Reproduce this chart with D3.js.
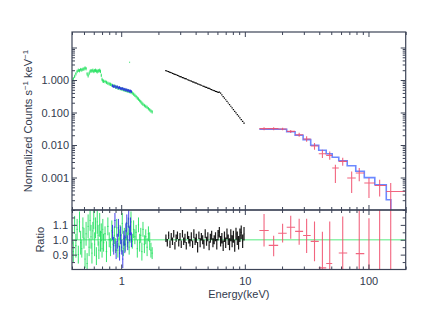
<!DOCTYPE html>
<html lang="en">
<head>
    <meta charset="utf-8">
    <title>Spectrum and ratio</title>
    <style>
        body {
            margin: 0;
            background: #fff;
        }

        svg {
            display: block;
        }

        .frame {
            fill: none;
            stroke: #3d4457;
            stroke-width: 1.2;
        }
    </style>
</head>
<body>
<svg id="chart" width="430" height="332"></svg>
<script src="https://d3js.org/d3.v7.min.js"></script>
<script>
    // ---- tick labels ----
    const xMajor = [1, 10, 100];
    const xLabels = ["1", "10", "100"];
    const yMajor = [0.001, 0.01, 0.1, 1, 10];
    const yLabels = ["0.001", "0.010", "0.100", "1.000", ""];
    const rMajor = [0.9, 1.0, 1.1];
    const rLabels = ["0.9", "1.0", "1.1"];
    const rMinor = [0.85, 0.95, 1.05, 1.15];

    // ---- green (soft) ----
    const greenE = [0.40, 0.41, 0.42, 0.43, 0.44, 0.45, 0.46, 0.47, 0.48, 0.49,
        0.50, 0.51, 0.52, 0.53, 0.54, 0.55, 0.56, 0.57, 0.58, 0.59,
        0.60, 0.61, 0.62, 0.63, 0.64, 0.65, 0.66, 0.67, 0.68, 0.69,
        0.70, 0.71, 0.72, 0.74, 0.76, 0.78, 0.80, 0.82, 0.84, 0.86,
        0.88, 0.90, 0.92, 0.94, 0.96, 0.98, 1.00, 1.02, 1.04, 1.06,
        1.08, 1.10, 1.12, 1.14, 1.16, 1.18, 1.20, 1.23, 1.26, 1.29,
        1.32, 1.35, 1.38, 1.41, 1.44, 1.47, 1.50, 1.54, 1.58, 1.62,
        1.66, 1.70, 1.74, 1.78];
    const greenV = [0.95, 1.10, 1.30, 1.55, 1.85, 2.00, 1.95, 2.10, 2.05, 2.15,
        2.20, 2.35, 2.25, 1.55, 1.35, 1.60, 1.85, 1.95, 1.90, 2.00,
        1.85, 1.95, 2.00, 1.90, 1.80, 1.95, 1.90, 2.00, 1.85, 1.40,
        1.05, 0.95, 0.92, 0.90, 0.85, 0.80, 0.76, 0.74, 0.70, 0.67,
        0.65, 0.61, 0.61, 0.57, 0.57, 0.55, 0.54, 0.53, 0.51, 0.50,
        0.49, 0.48, 0.47, 0.46, 0.45, 0.44, 0.43, 0.40, 0.37, 0.34,
        0.31, 0.28, 0.26, 0.235, 0.215, 0.195, 0.18, 0.165, 0.155, 0.145,
        0.132, 0.122, 0.112, 0.105];
    const greenR = [1.03, 0.92, 1.10, 0.96, 1.07, 0.90, 1.12, 0.98, 0.94, 1.08,
        1.01, 0.87, 1.04, 0.84, 1.09, 0.95, 1.13, 1.02, 0.91, 1.06,
        1.14, 0.97, 1.08, 0.89, 1.12, 1.03, 0.93, 1.10, 0.99, 1.05,
        0.94, 1.07, 0.98, 1.04, 0.92, 1.09, 1.00, 0.95, 1.06, 0.97,
        1.03, 0.96, 1.08, 0.93, 1.01, 1.05, 0.98, 1.11, 0.94, 1.02,
        0.97, 1.06, 1.00, 1.09, 0.95, 1.04, 1.12, 0.99, 1.07, 1.02,
        1.05, 0.94, 1.10, 0.98, 1.03, 0.92, 1.07, 0.97, 1.02, 0.95,
        1.04, 0.99, 0.93, 0.91];
    const greenRErr = [0.06, 0.07, 0.06, 0.08, 0.07, 0.06, 0.07, 0.08, 0.06, 0.07,
        0.07, 0.06, 0.08, 0.07, 0.08, 0.06, 0.07, 0.08, 0.07, 0.06,
        0.07, 0.08, 0.07, 0.06, 0.08, 0.07, 0.06, 0.08, 0.07, 0.06,
        0.06, 0.07, 0.06, 0.05, 0.07, 0.06, 0.05, 0.06, 0.07, 0.05,
        0.06, 0.05, 0.06, 0.05, 0.06, 0.05, 0.06, 0.07, 0.05, 0.06,
        0.05, 0.06, 0.05, 0.06, 0.05, 0.06, 0.07, 0.05, 0.06, 0.05,
        0.05, 0.06, 0.05, 0.06, 0.05, 0.06, 0.05, 0.06, 0.05, 0.06,
        0.05, 0.06, 0.05, 0.04];
    const greenStrayE = [1.17];
    const greenStrayV = [3.5];

    // ---- blue (soft) ----
    const blueE = [0.85, 0.87, 0.89, 0.91, 0.93, 0.95, 0.97, 0.99, 1.01, 1.03,
        1.05, 1.07, 1.09, 1.11, 1.13, 1.15, 1.17, 1.19, 1.21];
    const blueV = [0.67, 0.63, 0.65, 0.60, 0.62, 0.57, 0.59, 0.55, 0.54, 0.55,
        0.51, 0.52, 0.49, 0.50, 0.47, 0.48, 0.45, 0.46, 0.44];
    const blueR = [1.05, 0.96, 1.13, 0.93, 0.99, 1.08, 0.91, 1.03, 0.95, 0.87,
        1.01, 0.97, 1.06, 1.11, 0.98, 1.14, 1.04, 1.09, 1.00];
    const blueRErr = [0.05, 0.06, 0.05, 0.06, 0.05, 0.06, 0.05, 0.06, 0.05, 0.06,
        0.05, 0.06, 0.05, 0.06, 0.05, 0.06, 0.05, 0.06, 0.05];

    // ---- black (medium) ----
    const blackE = [2.30, 2.36, 2.42, 2.48, 2.54, 2.60, 2.66, 2.72, 2.78, 2.85,
        2.92, 2.99, 3.06, 3.13, 3.20, 3.28, 3.36, 3.44, 3.52, 3.60,
        3.69, 3.78, 3.87, 3.96, 4.05, 4.15, 4.25, 4.35, 4.45, 4.56,
        4.67, 4.78, 4.90, 5.02, 5.14, 5.26, 5.39, 5.52, 5.65, 5.79,
        5.93, 6.07, 6.22, 6.37, 6.52, 6.68, 6.84, 7.00, 7.17, 7.34,
        7.52, 7.70, 7.89, 8.08, 8.28, 8.48, 8.69, 8.90, 9.12, 9.35,
        9.60, 9.85];
    const blackV = [1.94, 1.86, 1.80, 1.72, 1.67, 1.59, 1.55, 1.48, 1.45, 1.38,
        1.34, 1.27, 1.25, 1.18, 1.16, 1.10, 1.08, 1.02, 0.995, 0.950,
        0.925, 0.880, 0.858, 0.818, 0.800, 0.760, 0.741, 0.705, 0.690, 0.655,
        0.638, 0.608, 0.592, 0.562, 0.549, 0.522, 0.509, 0.484, 0.473, 0.449,
        0.437, 0.418, 0.425, 0.392, 0.349, 0.310, 0.276, 0.247, 0.220, 0.196,
        0.174, 0.156, 0.138, 0.123, 0.109, 0.0974, 0.0865, 0.0770, 0.0684, 0.0606,
        0.0533, 0.0471];
    const blackR = [1.01, 0.98, 1.03, 0.97, 1.02, 0.99, 1.04, 0.96, 1.01, 1.03,
        0.98, 1.02, 0.97, 1.04, 0.99, 1.01, 0.96, 1.03, 1.00, 0.98,
        1.02, 0.97, 1.04, 0.99, 1.01, 0.95, 1.03, 0.98, 1.02, 1.00,
        0.97, 1.04, 0.99, 1.02, 0.96, 1.01, 1.03, 0.98, 1.00, 1.02,
        0.97, 1.03, 1.05, 0.99, 1.01, 0.96, 1.02, 0.98, 1.04, 1.00,
        0.97, 1.03, 0.99, 1.02, 0.96, 1.04, 1.01, 0.98, 1.03, 1.05,
        0.99, 1.04];
    const blackRErr = [0.025, 0.025, 0.025, 0.025, 0.025, 0.025, 0.025, 0.025, 0.025, 0.025,
        0.025, 0.025, 0.025, 0.025, 0.025, 0.03, 0.025, 0.025, 0.025, 0.025,
        0.03, 0.025, 0.03, 0.025, 0.03, 0.035, 0.025, 0.03, 0.025, 0.03,
        0.03, 0.03, 0.03, 0.03, 0.03, 0.03, 0.03, 0.03, 0.03, 0.03,
        0.035, 0.035, 0.035, 0.035, 0.035, 0.035, 0.035, 0.035, 0.035, 0.035,
        0.04, 0.04, 0.04, 0.04, 0.04, 0.04, 0.045, 0.045, 0.045, 0.045,
        0.045, 0.045];

    // ---- red (hard) with model ----
    const redE = [14.3, 17.1, 20.2, 23.5, 27.5, 31.6, 36.6, 42.4, 48.6, 54.0,
        61.9, 73.1, 84.2, 100.9, 123.1, 151.3];
    const redEdges = [13.1, 15.6, 18.6, 21.8, 25.5, 29.6, 34.1, 39.6, 45.5, 50.9,
        57.5, 67.3, 78.9, 92.5, 112.5, 139.3, 200];
    const redV = [0.0318, 0.0318, 0.0312, 0.0262, 0.0207, 0.0153, 0.0093, 0.0054, 0.0048, 0.00196,
        0.00313, 0.00097, 0.00137, 0.00068, 0.00057, 0.00037];
    const redLo = [0.0285, 0.0285, 0.0285, 0.0236, 0.0180, 0.0126, 0.00717, 0.00398, 0.00353, 0.00068,
        0.00231, 0.000333, 0.00076, 0.000234, 0.000262, 0.00005];
    const redHi = [0.0353, 0.0353, 0.0338, 0.0292, 0.0239, 0.0185, 0.0115, 0.00717, 0.00636, 0.00248,
        0.00407, 0.00154, 0.00196, 0.00097, 0.000855, 0.00068];
    const redR = [1.062, 0.962, 1.044, 1.084, 1.056, 1.029, 0.989, 0.811, 0.840, 0.45,
        0.911, 0.42, 0.907, 0.68, 0.72, 1.5];
    const redRLo = [0.955, 0.889, 0.982, 1.007, 0.967, 0.911, 0.855, 0.70, 0.70, 0.25,
        0.70, 0.15, 0.60, 0.30, 0.20, 0.10];
    const redRHi = [1.173, 1.027, 1.107, 1.162, 1.142, 1.142, 1.122, 1.053, 1.122, 0.76,
        1.156, 0.78, 1.25, 1.144, 1.30, 3.0];
    const modelEdges = [13.1, 15.6, 18.6, 21.8, 25.5, 29.6, 34.1, 39.6, 45.5, 50.9,
        57.5, 67.3, 78.9, 92.5, 112.5, 139.3, 151.6, 200];
    const modelV = [0.0306, 0.0309, 0.0306, 0.0257, 0.0200, 0.0146, 0.00986, 0.00692, 0.0054, 0.00421,
        0.00329, 0.00231, 0.00156, 0.00099, 0.0006, 0.000207, 0.00005];

    const axisColor = "#3d4457";
    const textColor = "#323a4d";
    const font = "'Liberation Sans', Arial, Helvetica, sans-serif";

    const svg = d3.select("#chart");
    const plotLeft = 72, plotRight = 405.7, plotTop = 32, plotMid = 210, plotBottom = 269.5;

    const x = d3.scaleLog().domain([0.4, 200]).range([plotLeft, plotRight]);
    const y = d3.scaleLog().domain([1e-4, 30]).range([plotMid, plotTop]);
    const yr = d3.scaleLinear().domain([0.8, 1.2]).range([plotBottom, plotMid]);

    svg.append("rect").attr("width", 430).attr("height", 332).attr("fill", "#fff");

    const defs = svg.append("defs");
    defs.append("clipPath").attr("id", "clip-main").append("rect")
        .attr("x", plotLeft).attr("y", plotTop).attr("width", plotRight - plotLeft).attr("height", plotMid - plotTop);
    defs.append("clipPath").attr("id", "clip-ratio").append("rect")
        .attr("x", plotLeft).attr("y", plotMid).attr("width", plotRight - plotLeft).attr("height", plotBottom - plotMid);

    const main = svg.append("g").attr("clip-path", "url(#clip-main)");
    const ratio = svg.append("g").attr("clip-path", "url(#clip-ratio)");

    function binEdges(E)
    {
        return E.map((e, i) =>
        {
            const lo = i > 0 ? Math.sqrt(E[i - 1] * e) : e * e / Math.sqrt(e * E[i + 1]);
            const hi = i < E.length - 1 ? Math.sqrt(e * E[i + 1]) : e * e / Math.sqrt(E[i - 1] * e);
            return [lo, hi];
        });
    }

    // crosses: horizontal bin bar + vertical error bar
    function crosses(g, edges, E, V, lo, hi, yScale, color, width, opacity)
    {
        const p = d3.path();
        E.forEach((e, i) =>
        {
            const yv = yScale(V[i]);
            p.moveTo(x(edges[i][0]), yv);
            p.lineTo(x(edges[i][1]), yv);
            p.moveTo(x(e), yScale(lo[i]));
            p.lineTo(x(e), yScale(hi[i]));
        });
        g.append("path").attr("d", p.toString())
            .attr("fill", "none").attr("stroke", color)
            .attr("stroke-width", width).attr("stroke-opacity", opacity);
    }

    const greenEdges = binEdges(greenE);
    const blueEdges = binEdges(blueE);
    const blackEdges = binEdges(blackE);
    const redBins = redE.map((e, i) => [redEdges[i], redEdges[i + 1]]);

    const green = "#1fe05c", blue = "#2e2ee6", red = "#f04a68", modelBlue = "#5274ff";

    // ---- main panel ----
    crosses(main, greenEdges, greenE, greenV, greenV.map(v => v * 0.88), greenV.map(v => v * 1.12), y, green, 1, 0.85);
    crosses(main, [[1.165, 1.175]], greenStrayE, greenStrayV,
        greenStrayV.map(v => v * 0.95), greenStrayV.map(v => v * 1.05), y, green, 1, 0.6);
    crosses(main, blueEdges, blueE, blueV, blueV.map(v => v * 0.9), blueV.map(v => v * 1.1), y, blue, 1, 0.9);
    crosses(main, blackEdges, blackE, blackV, blackV.map(v => v * 0.97), blackV.map(v => v * 1.03), y, "#000", 1.2, 1);

    const modelPts = modelV.map((v, i) => [modelEdges[i], v]);
    modelPts.push([modelEdges[modelEdges.length - 1], modelV[modelV.length - 1]]);
    main.append("path")
        .attr("d", d3.line().x(d => x(d[0])).y(d => y(d[1])).curve(d3.curveStepAfter)(modelPts))
        .attr("fill", "none").attr("stroke", modelBlue).attr("stroke-width", 1.6).attr("stroke-opacity", 0.85);

    crosses(main, redBins, redE, redV, redLo, redHi, y, red, 1.1, 0.85);

    // ---- ratio panel ----
    ratio.append("line")
        .attr("x1", plotLeft).attr("x2", plotRight).attr("y1", yr(1)).attr("y2", yr(1))
        .attr("stroke", "#8ef2aa").attr("stroke-width", 1.3);

    crosses(ratio, greenEdges, greenE, greenR, greenR.map((r, i) => r - greenRErr[i]),
        greenR.map((r, i) => r + greenRErr[i]), yr, green, 1, 0.9);
    crosses(ratio, blueEdges, blueE, blueR, blueR.map((r, i) => r - blueRErr[i]),
        blueR.map((r, i) => r + blueRErr[i]), yr, blue, 1, 0.9);
    crosses(ratio, blackEdges, blackE, blackR, blackR.map((r, i) => r - blackRErr[i]),
        blackR.map((r, i) => r + blackRErr[i]), yr, "#000", 1.2, 0.9);
    crosses(ratio, redBins, redE, redR, redRLo, redRHi, yr, red, 1.1, 0.85);

    // ---- axes ----
    const xMinor = x.ticks().filter(t => !xMajor.some(m => Math.abs(m - t) < 1e-9));
    const yMinor = y.ticks().filter(t => t <= 10.0001 && !yMajor.some(m => Math.abs(m / t - 1) < 1e-6));

    function addAxis(axis, tx, ty)
    {
        const g = svg.append("g").attr("transform", `translate(${tx},${ty})`).call(axis);
        g.select(".domain").remove();
        g.attr("font-family", font).attr("font-size", 11);
        g.selectAll("line").attr("stroke", axisColor);
        g.selectAll("text").attr("fill", textColor);
        return g;
    }

    const labelX = d => xLabels[xMajor.indexOf(d)];
    const labelY = d => yLabels[yMajor.indexOf(d)];
    const labelR = d => rLabels[rMajor.findIndex(m => Math.abs(m - d) < 1e-9)];

    // x axes on the horizontal edges, ticks pointing inward
    addAxis(d3.axisBottom(x).tickValues(xMajor).tickFormat(labelX).tickSize(-5).tickSizeOuter(0).tickPadding(8), 0, plotBottom);
    addAxis(d3.axisBottom(x).tickValues(xMinor).tickFormat("").tickSize(-3).tickSizeOuter(0), 0, plotBottom);
    [[plotMid, d3.axisBottom], [plotTop, d3.axisTop], [plotMid, d3.axisTop]].forEach(([ty, ax]) =>
    {
        addAxis(ax(x).tickValues(xMajor).tickFormat("").tickSize(-5).tickSizeOuter(0), 0, ty);
        addAxis(ax(x).tickValues(xMinor).tickFormat("").tickSize(-3).tickSizeOuter(0), 0, ty);
    });

    // main y axes
    addAxis(d3.axisLeft(y).tickValues(yMajor).tickFormat(labelY).tickSize(-5).tickSizeOuter(0).tickPadding(3), plotLeft, 0);
    addAxis(d3.axisLeft(y).tickValues(yMinor).tickFormat("").tickSize(-3).tickSizeOuter(0), plotLeft, 0);
    addAxis(d3.axisRight(y).tickValues(yMajor).tickFormat("").tickSize(-5).tickSizeOuter(0), plotRight, 0);
    addAxis(d3.axisRight(y).tickValues(yMinor).tickFormat("").tickSize(-3).tickSizeOuter(0), plotRight, 0);

    // ratio y axes
    addAxis(d3.axisLeft(yr).tickValues(rMajor).tickFormat(labelR).tickSize(-5).tickSizeOuter(0).tickPadding(4), plotLeft, 0);
    addAxis(d3.axisLeft(yr).tickValues(rMinor).tickFormat("").tickSize(-3).tickSizeOuter(0), plotLeft, 0);
    addAxis(d3.axisRight(yr).tickValues(rMajor).tickFormat("").tickSize(-5).tickSizeOuter(0), plotRight, 0);
    addAxis(d3.axisRight(yr).tickValues(rMinor).tickFormat("").tickSize(-3).tickSizeOuter(0), plotRight, 0);

    // frames
    svg.append("rect").attr("class", "frame")
        .attr("x", plotLeft).attr("y", plotTop).attr("width", plotRight - plotLeft).attr("height", plotMid - plotTop);
    svg.append("rect").attr("class", "frame")
        .attr("x", plotLeft).attr("y", plotMid).attr("width", plotRight - plotLeft).attr("height", plotBottom - plotMid);

    // ---- axis titles ----
    const ylab = svg.append("text")
        .attr("transform", `translate(32,${(plotTop + plotMid) / 2}) rotate(-90)`)
        .attr("text-anchor", "middle").attr("font-family", font).attr("font-size", 11).attr("fill", textColor);
    ylab.append("tspan").text("Normalized Counts s");
    ylab.append("tspan").attr("dy", -4).attr("font-size", 8).text("−1");
    ylab.append("tspan").attr("dy", 4).text(" keV");
    ylab.append("tspan").attr("dy", -4).attr("font-size", 8).text("−1");

    svg.append("text")
        .attr("transform", `translate(43.5,${(plotMid + plotBottom) / 2}) rotate(-90)`)
        .attr("text-anchor", "middle").attr("font-family", font).attr("font-size", 11).attr("fill", textColor)
        .text("Ratio");

    svg.append("text")
        .attr("x", (plotLeft + plotRight) / 2).attr("y", 297.5)
        .attr("text-anchor", "middle").attr("font-family", font).attr("font-size", 11).attr("fill", textColor)
        .text("Energy(keV)");
</script>
</body>
</html>
